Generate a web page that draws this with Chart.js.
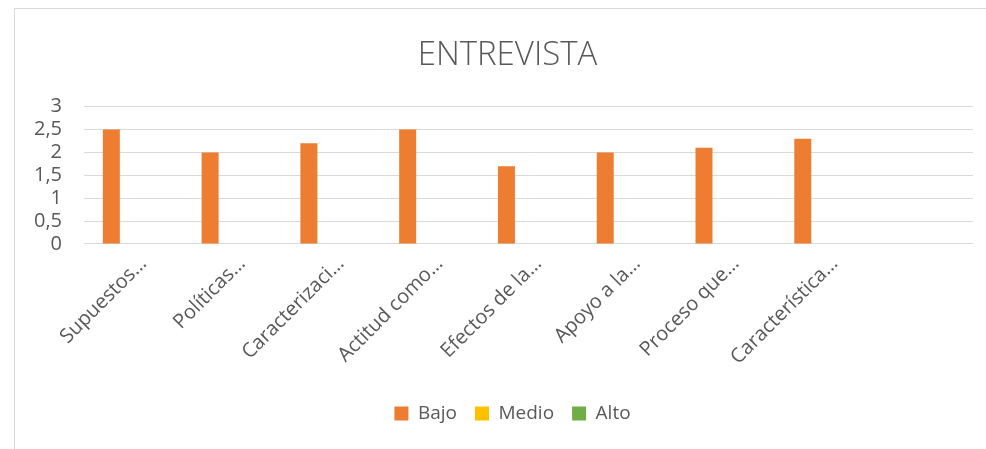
<!DOCTYPE html>
<html>
<head>
<meta charset="utf-8">
<script src="https://cdn.jsdelivr.net/npm/chart.js@4.4.1/dist/chart.umd.min.js"></script>
<style>
  html, body { margin: 0; padding: 0; background: #ffffff; }
  #wrap { position: relative; width: 986px; height: 449px; overflow: hidden; }
  #frame { position: absolute; left: 14px; top: 8px; width: 1000px; height: 500px; border: 1px solid #d9d9d9; box-sizing: border-box; }
  canvas { position: absolute; left: 14px; top: 0; }
</style>
</head>
<body>
<div id="wrap">
  <div id="frame"></div>
  <canvas id="c" width="986" height="449"></canvas>
</div>
<script>
const chartTitle = "ENTREVISTA";
const categories = [
  "Supuestos…",
  "Políticas…",
  "Caracterizaci…",
  "Actitud como…",
  "Efectos de la…",
  "Apoyo a la…",
  "Proceso que…",
  "Característica…",
  ""
];
const seriesNames = ["Bajo", "Medio", "Alto"];
const bajoValues  = [2.5, 2, 2.2, 2.5, 1.7, 2, 2.1, 2.3, null];
const medioValues = [0, 0, 0, 0, 0, 0, 0, 0, null];
const altoValues  = [0, 0, 0, 0, 0, 0, 0, 0, null];
const seriesColors = ["#ED7D31", "#FFC000", "#70AD47"];
const yTicks = [0, 0.5, 1, 1.5, 2, 2.5, 3];

const FONT = "'Open Sans', 'DejaVu Sans', sans-serif";
const TEXT = "#595959";

const seriesValues = [bajoValues, medioValues, altoValues];
const datasets = seriesNames.map((name, i) => ({
  label: name,
  data: seriesValues[i],
  backgroundColor: seriesColors[i],
  borderWidth: 0,
  categoryPercentage: 0.67,
  barPercentage: 0.77
}));

// center title and legend on the framed chart rather than the padded area
const boxShift = {
  id: "boxShift",
  afterLayout(chart) {
    if (chart.titleBlock) { chart.titleBlock.left += 14; chart.titleBlock.right += 14; }
    if (chart.legend) { chart.legend.left += 19; chart.legend.right += 19; }
  }
};

new Chart(document.getElementById("c"), {
  type: "bar",
  data: { labels: categories, datasets: datasets },
  plugins: [boxShift],
  options: {
    responsive: false,
    animation: false,
    devicePixelRatio: 1,
    layout: { padding: { left: 0, right: 27, top: 0, bottom: 16 } },
    plugins: {
      tooltip: { enabled: false },
      title: {
        display: true,
        text: chartTitle,
        color: TEXT,
        font: { family: FONT, size: 33, weight: "300" },
        padding: { top: 36, bottom: 31 }
      },
      legend: {
        position: "bottom",
        labels: {
          color: TEXT,
          font: { family: FONT, size: 19 },
          boxWidth: 14,
          boxHeight: 14,
          padding: 18
        }
      }
    },
    scales: {
      x: {
        grid: { display: false },
        border: { display: false },
        ticks: {
          color: TEXT,
          font: { family: FONT, size: 20 },
          minRotation: 45,
          maxRotation: 45,
          autoSkip: false,
          padding: 0,
          labelOffset: 10
        },
        afterFit: (s) => { s.height = 142; }
      },
      y: {
        min: 0,
        max: 3,
        afterBuildTicks: (s) => { s.ticks = yTicks.map(v => ({ value: v })); },
        grid: { color: "#d9d9d9", lineWidth: 1, drawTicks: false },
        border: { display: false },
        ticks: {
          color: TEXT,
          font: { family: FONT, size: 20 },
          autoSkip: false,
          padding: 22,
          callback: (v) => String(v).replace(".", ",")
        },
        afterFit: (s) => { s.width = 70; }
      }
    }
  }
});
</script>
</body>
</html>
